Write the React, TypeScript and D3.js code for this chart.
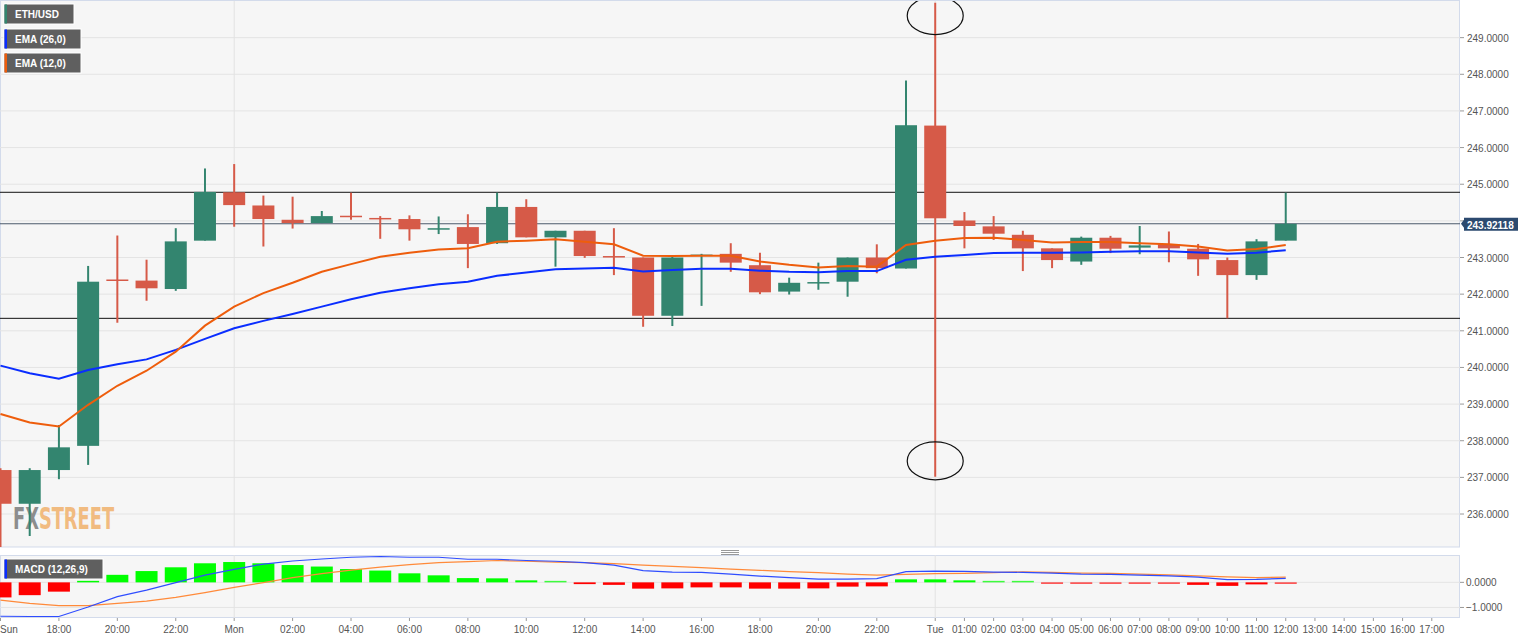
import React from 'react';
import * as d3 from 'd3';

// hourly candles, index 0 = Sun 16:00 ... index 44 = Tue 12:00
const opens = [237.2, 236.28, 237.2, 237.86, 242.4, 242.37, 242.14, 243.46, 244.78, 244.42, 244.03, 243.94, 244.14, 244.08, 244.05, 243.78, 243.83, 243.39, 244.38, 243.55, 243.73, 243.04, 243.0, 241.41, 243.05, 243.1, 242.79, 242.07, 242.31, 242.34, 243.0, 242.7, 246.6, 244.01, 243.85, 243.62, 243.25, 242.89, 243.54, 243.27, 243.36, 243.24, 242.93, 242.52, 243.46];
const highs = [237.25, 237.25, 238.43, 242.77, 243.6, 242.94, 243.8, 245.43, 245.55, 244.69, 244.66, 244.27, 244.77, 244.13, 244.15, 244.12, 244.18, 244.77, 244.59, 243.73, 243.73, 243.8, 243.0, 243.02, 243.1, 243.39, 243.13, 242.45, 242.86, 243.0, 243.36, 247.83, 249.95, 244.24, 244.13, 243.73, 243.25, 243.57, 243.59, 243.86, 243.71, 243.37, 243.0, 243.5, 244.77];
const lows = [235.1, 235.4, 236.95, 237.34, 241.22, 241.82, 242.09, 243.46, 243.84, 243.3, 243.79, 243.94, 244.03, 243.51, 243.46, 243.64, 242.71, 243.37, 243.55, 242.75, 242.99, 242.52, 241.11, 241.13, 241.68, 242.61, 242.0, 241.99, 242.12, 241.93, 242.57, 242.7, 237.02, 243.25, 243.48, 242.63, 242.71, 242.8, 243.12, 243.09, 242.87, 242.5, 241.34, 242.39, 243.46];
const closes = [236.28, 237.2, 237.82, 242.34, 242.37, 242.16, 243.44, 244.79, 244.43, 244.05, 243.94, 244.13, 244.12, 244.06, 243.77, 243.8, 243.37, 244.38, 243.55, 243.73, 243.04, 243.02, 241.41, 243.0, 243.08, 242.86, 242.05, 242.31, 242.33, 243.0, 242.71, 246.61, 244.07, 243.86, 243.65, 243.25, 242.93, 243.54, 243.24, 243.33, 243.25, 242.95, 242.52, 243.44, 243.92];

const ema26 = [240.05, 239.84, 239.69, 239.93, 240.09, 240.22, 240.48, 240.78, 241.07, 241.27, 241.46, 241.66, 241.86, 242.04, 242.16, 242.27, 242.34, 242.5, 242.59, 242.68, 242.7, 242.72, 242.62, 242.66, 242.69, 242.69, 242.64, 242.61, 242.6, 242.63, 242.63, 242.94, 243.02, 243.07, 243.12, 243.13, 243.13, 243.14, 243.16, 243.17, 243.17, 243.14, 243.1, 243.13, 243.2];
const ema12 = [238.73, 238.5, 238.39, 238.98, 239.5, 239.91, 240.43, 241.14, 241.66, 242.03, 242.31, 242.61, 242.82, 243.02, 243.13, 243.22, 243.25, 243.43, 243.46, 243.5, 243.43, 243.36, 243.05, 243.04, 243.05, 243.05, 242.89, 242.8, 242.73, 242.77, 242.75, 243.34, 243.46, 243.53, 243.54, 243.48, 243.41, 243.42, 243.42, 243.39, 243.36, 243.3, 243.19, 243.23, 243.34];

const macdHist = [-0.6, -0.51, -0.37, 0.06, 0.3, 0.45, 0.6, 0.76, 0.81, 0.76, 0.69, 0.63, 0.53, 0.47, 0.36, 0.28, 0.17, 0.16, 0.08, 0.05, -0.07, -0.1, -0.25, -0.24, -0.2, -0.2, -0.25, -0.25, -0.24, -0.17, -0.16, 0.12, 0.12, 0.08, 0.05, 0.0, -0.05, -0.05, -0.05, -0.05, -0.05, -0.1, -0.14, -0.08, -0.04];
const macdLine = [-1.35, -1.36, -1.36, -0.98, -0.57, -0.31, -0.01, 0.29, 0.52, 0.73, 0.85, 0.93, 1.0, 1.03, 1.0, 1.0, 0.92, 0.92, 0.87, 0.84, 0.79, 0.69, 0.47, 0.41, 0.4, 0.33, 0.25, 0.19, 0.13, 0.13, 0.15, 0.43, 0.45, 0.44, 0.41, 0.4, 0.37, 0.33, 0.32, 0.29, 0.26, 0.21, 0.11, 0.12, 0.16];
const signalLine = [-0.71, -0.84, -0.93, -0.93, -0.84, -0.75, -0.6, -0.41, -0.2, -0.01, 0.19, 0.35, 0.49, 0.61, 0.71, 0.79, 0.83, 0.87, 0.84, 0.81, 0.79, 0.75, 0.69, 0.64, 0.59, 0.53, 0.48, 0.43, 0.39, 0.33, 0.29, 0.32, 0.35, 0.36, 0.39, 0.42, 0.4, 0.37, 0.36, 0.33, 0.3, 0.26, 0.22, 0.19, 0.21];

const xTickHours = [0, 2, 4, 6, 8, 10, 12, 14, 16, 18, 20, 22, 24, 26, 28, 30, 32, 33, 34, 35, 36, 37, 38, 39, 40, 41, 42, 43, 44, 45, 46, 47, 48, 49];
const xTickLabels = ['Sun', '18:00', '20:00', '22:00', 'Mon', '02:00', '04:00', '06:00', '08:00', '10:00', '12:00', '14:00', '16:00', '18:00', '20:00', '22:00', 'Tue', '01:00', '02:00', '03:00', '04:00', '05:00', '06:00', '07:00', '08:00', '09:00', '10:00', '11:00', '12:00', '13:00', '14:00', '15:00', '16:00', '17:00'];
const dayBreakHours = [8, 32];
const priceTicks = [236, 237, 238, 239, 240, 241, 242, 243, 244, 245, 246, 247, 248, 249];
const macdTicks = [0, -1];
const levelLines = [244.78, 241.34];
const lastPrice = 243.92118;
const lastPriceLabel = '243.92118';
const spikeHour = 32;
const spikeMarks = [249.6, 237.45];

const W = 1536;
const H = 641;
const PL = 0, PR = 1460;
const MT = 1, MB = 547;
const DT = 555, DB = 618;

const UP = '#33856f';
const DOWN = '#d65a48';
const FONT = '"Liberation Sans", Arial, sans-serif';
const WM_FONT = '"DejaVu Sans Condensed", "Liberation Sans Narrow", sans-serif';

export default function App() {
  const x = d3.scaleLinear().domain([0, 50]).range([0.5, 1461]);
  const y = d3.scaleLinear().domain([235.1, 250]).range([MB, MT]);
  const ym = d3.scaleLinear().domain([-1.42, 1.09]).range([DB, DT]);
  const bw = 22;

  const emaLine = (vals: number[]) =>
    d3.line<number>().x((_, i) => x(i)).y((d) => y(d))(vals) || '';
  const mLine = (vals: number[]) =>
    d3.line<number>().x((_, i) => x(i)).y((d) => ym(d))(vals) || '';

  const fmt = d3.format('.4f');
  const yLast = y(lastPrice);

  const legend = (label: string, color: string, top: number, width: number) => (
    <g key={label}>
      <rect x={4} y={top} width={width} height={20} fill="#5f5f5f" stroke="#ffffff" strokeWidth={1} />
      <rect x={4.5} y={top + 0.5} width={2.5} height={19} fill={color} />
      <text x={15} y={top + 14} fill="#ffffff" fontSize={10} fontWeight="bold" fontFamily={FONT}>{label}</text>
    </g>
  );

  return (
    <svg width={W} height={H} style={{ position: 'absolute', left: 0, top: 0, background: '#fff' }} fontFamily={FONT}>
      <defs>
        <clipPath id="mainClip"><rect x={PL} y={MT} width={PR - PL} height={MB - MT} /></clipPath>
        <clipPath id="macdClip"><rect x={PL} y={DT} width={PR - PL} height={DB - DT} /></clipPath>
      </defs>

      {/* main panel */}
      <rect x={PL + 0.5} y={MT - 0.5} width={PR - PL - 1} height={MB - MT + 0.5} fill="#f6f6f6" stroke="#d3dbeb" />
      {priceTicks.map((t) => (
        <line key={'g' + t} x1={PL} x2={PR} y1={y(t)} y2={y(t)} stroke="#e4e4e4" />
      ))}
      {dayBreakHours.map((h) => (
        <line key={'v' + h} x1={x(h)} x2={x(h)} y1={MT} y2={MB} stroke="#e2e2e2" />
      ))}

      {/* watermark */}
      <g transform="translate(13,529) scale(0.66,1)">
        <text x={0} y={0} fontSize={30} fontWeight="bold" fontFamily={WM_FONT}>
          <tspan fill="#8d8d8d">FX</tspan><tspan fill="#f1bb80">STREET</tspan>
        </text>
      </g>

      <g clipPath="url(#mainClip)">
        {levelLines.map((v) => (
          <line key={'l' + v} x1={PL} x2={PR} y1={y(v)} y2={y(v)} stroke="#111" strokeWidth={1} />
        ))}
        <line x1={PL} x2={PR} y1={yLast} y2={yLast} stroke="#4b5a6b" strokeWidth={1} />

        {opens.map((o, i) => {
          const c = closes[i];
          const up = c >= o;
          const col = up ? UP : DOWN;
          const top = y(Math.max(o, c));
          const bot = y(Math.min(o, c));
          const hgt = Math.max(bot - top, 1.5);
          return (
            <g key={'c' + i}>
              <line x1={x(i)} x2={x(i)} y1={y(highs[i])} y2={y(lows[i])} stroke={col} strokeWidth={2} />
              <rect x={x(i) - bw / 2} y={top} width={bw} height={hgt} fill={col} />
            </g>
          );
        })}

        <path d={emaLine(ema26)} fill="none" stroke="#0a2dff" strokeWidth={2} />
        <path d={emaLine(ema12)} fill="none" stroke="#ee5d0c" strokeWidth={2} />

        {spikeMarks.map((v) => (
          <ellipse key={'e' + v} cx={x(spikeHour)} cy={y(v)} rx={28} ry={19} fill="none" stroke="#111" strokeWidth={1.2} />
        ))}
      </g>

      {/* right price axis */}
      {priceTicks.map((t) => (
        <g key={'t' + t}>
          <line x1={PR} x2={PR + 4} y1={y(t)} y2={y(t)} stroke="#999" />
          {Math.abs(y(t) - yLast) > 12 && (
            <text x={PR + 7} y={y(t) + 4} fontSize={10} fill="#555">{fmt(t)}</text>
          )}
        </g>
      ))}
      <g>
        <path d={`M${PR + 1},${yLast} L${PR + 4},${yLast - 4} L${PR + 4},${yLast - 6} L${PR + 58},${yLast - 6} L${PR + 58},${yLast + 7} L${PR + 4},${yLast + 7} L${PR + 4},${yLast + 4} Z`} fill="#2c4a6f" />
        <text x={PR + 7} y={yLast + 5} fontSize={10} fontWeight="bold" fill="#fff">{lastPriceLabel}</text>
      </g>

      {legend('ETH/USD', UP, 4, 70)}
      {legend('EMA (26,0)', '#0a2dff', 29, 77)}
      {legend('EMA (12,0)', '#ee5d0c', 53, 77)}

      {/* divider handle */}
      <g stroke="#999" strokeWidth={1}>
        <line x1={721} x2={739} y1={550.5} y2={550.5} />
        <line x1={721} x2={739} y1={552.5} y2={552.5} />
        <line x1={721} x2={739} y1={554.5} y2={554.5} />
      </g>

      {/* MACD panel */}
      <rect x={PL + 0.5} y={DT + 0.5} width={PR - PL - 1} height={DB - DT - 1} fill="#f6f6f6" stroke="#d3dbeb" />
      {macdTicks.map((t) => (
        <line key={'mg' + t} x1={PL} x2={PR} y1={ym(t)} y2={ym(t)} stroke="#e4e4e4" />
      ))}
      {dayBreakHours.map((h) => (
        <line key={'mv' + h} x1={x(h)} x2={x(h)} y1={DT} y2={DB} stroke="#e2e2e2" />
      ))}
      <g clipPath="url(#macdClip)">
        {macdHist.map((v, i) => {
          const y0 = ym(0);
          const h = Math.max(Math.abs(ym(v) - y0), 1.5);
          return (
            <rect key={'h' + i} x={x(i) - bw / 2} y={v >= 0 ? y0 - h : y0} width={bw} height={h} fill={v >= 0 ? '#00ff00' : '#ff0000'} opacity={Math.abs(v) < 0.06 ? 0.75 : 1} />
          );
        })}
        <path d={mLine(signalLine)} fill="none" stroke="#ff8a3a" strokeWidth={1.2} />
        <path d={mLine(macdLine)} fill="none" stroke="#2f4dff" strokeWidth={1.2} />
      </g>
      {macdTicks.map((t) => (
        <g key={'mt' + t}>
          <line x1={PR} x2={PR + 4} y1={ym(t)} y2={ym(t)} stroke="#999" />
          <text x={PR + 6} y={ym(t) + 4} fontSize={10} fill="#555">{fmt(t)}</text>
        </g>
      ))}
      {legend('MACD (12,26,9)', '#0a2dff', 559, 99)}

      {/* time axis */}
      {xTickHours.map((h, i) => (
        <g key={'x' + i}>
          <line x1={x(h)} x2={x(h)} y1={DB} y2={DB + 3} stroke="#999" />
          <text x={i === 0 ? 0 : x(h)} y={633} fontSize={10} fill="#555" textAnchor={i === 0 ? 'start' : 'middle'}>{xTickLabels[i]}</text>
        </g>
      ))}
    </svg>
  );
}
